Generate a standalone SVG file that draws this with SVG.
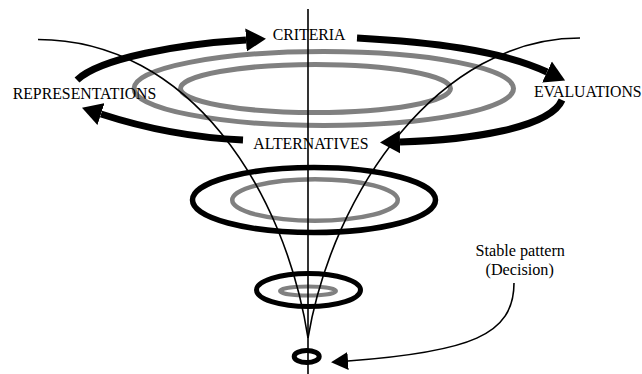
<svg xmlns="http://www.w3.org/2000/svg" width="642" height="374" viewBox="0 0 642 374">
  <style>
    .lbl { font-family: "Liberation Serif", "Times New Roman", serif; font-size: 15.8px; fill: #000; }
    .note { font-family: "Liberation Serif", "Times New Roman", serif; font-size: 16.2px; fill: #000; }
    .gray { fill: none; stroke: #808080; }
    .blk { fill: none; stroke: #000; }
    .cycle { fill: none; stroke: #000; stroke-width: 7; stroke-linecap: butt; marker-end: url(#head); }
    .thin { fill: none; stroke: #000; stroke-width: 1.6; }
  </style>
  <defs>
    <marker id="head" markerUnits="userSpaceOnUse" viewBox="0 -12 21 24" markerWidth="21" markerHeight="24" refX="0" refY="0" orient="auto">
      <path d="M0,-11.5 L20,0 L0,11.5 Z" fill="#000"/>
    </marker>
    <marker id="headSmall" markerUnits="userSpaceOnUse" viewBox="0 -10 18 20" markerWidth="18" markerHeight="20" refX="0" refY="0" orient="auto">
      <path d="M0,-9 L17,0 L0,9 Z" fill="#000"/>
    </marker>
  </defs>

  <rect width="642" height="374" fill="#fff"/>

  <g id="level-top">
    <ellipse class="gray" cx="323.75" cy="88.5" rx="189.75" ry="37" stroke-width="5"/>
    <ellipse class="gray" cx="315.5" cy="88.5" rx="135" ry="24" stroke-width="5"/>
  </g>
  <g id="level-middle">
    <ellipse class="blk" cx="314" cy="200" rx="121.5" ry="32.5" stroke-width="5.5"/>
    <ellipse class="gray" cx="315" cy="200" rx="82.75" ry="20.75" stroke-width="4.5"/>
  </g>
  <g id="level-small">
    <ellipse class="blk" cx="308.5" cy="290" rx="52" ry="16.5" stroke-width="5"/>
    <ellipse class="gray" cx="308" cy="291" rx="28" ry="4.5" stroke-width="4"/>
  </g>
  <g id="decision">
    <ellipse class="blk" cx="306.7" cy="356.5" rx="12.5" ry="6" stroke-width="5"/>
  </g>

  <g id="connectors">
    <line class="thin" x1="308" y1="9" x2="308" y2="374"/>
    <path class="thin" d="M38,39.5 C190,40 285,190 308,338"/>
    <path class="thin" d="M580,38 C440,38 333,190 308,338"/>
    <path class="cycle" d="M77,80 C100,58 180,44 246,40"/>
    <path class="cycle" d="M357,38 C430,42 500,50 547,72"/>
    <path class="cycle" d="M562,100 C550,128 470,140 400,142"/>
    <path class="cycle" d="M243,140 C200,138 150,130 101,114"/>
    <path class="thin" d="M514,283 C514,335 470,352 348,361" stroke-width="2" marker-end="url(#headSmall)"/>
  </g>

  <g id="criteria"><text class="lbl" x="272.7" y="40">CRITERIA</text></g>
  <g id="representations"><text class="lbl" x="12.7" y="99">REPRESENTATIONS</text></g>
  <g id="evaluations"><text class="lbl" x="534" y="96.5">EVALUATIONS</text></g>
  <g id="alternatives"><text class="lbl" x="253.3" y="149">ALTERNATIVES</text></g>
  <g id="stable-pattern">
    <text class="note" x="475.5" y="256">Stable pattern</text>
    <text class="note" x="485.5" y="274.5">(Decision)</text>
  </g>
</svg>
